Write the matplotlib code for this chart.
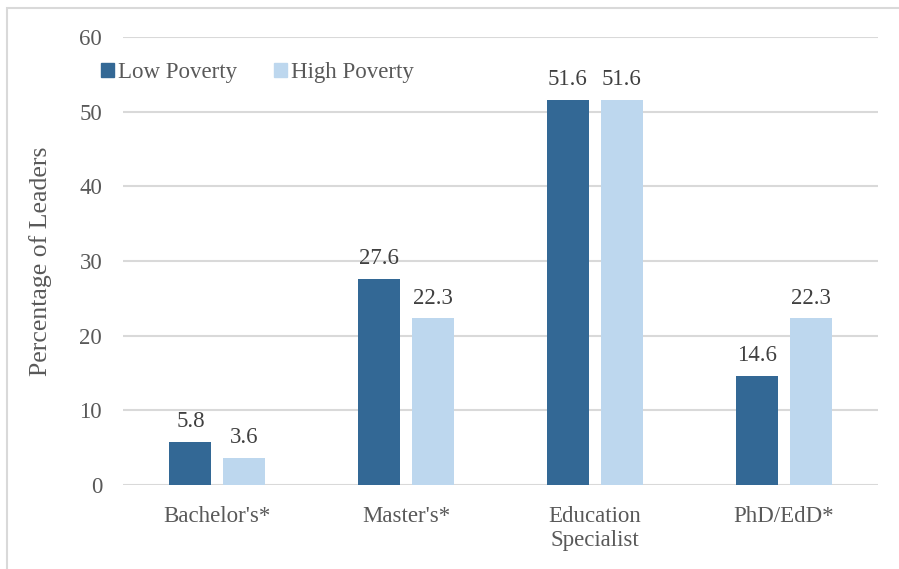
import matplotlib
matplotlib.use("Agg")
import matplotlib.pyplot as plt
from matplotlib.patches import Rectangle, Patch
import numpy as np

plt.rcParams['font.family'] = ['Liberation Serif', 'DejaVu Serif']

categories = ["Bachelor's*", "Master's*", "Education\nSpecialist", "PhD/EdD*"]
low_poverty = [5.8, 27.6, 51.6, 14.6]
high_poverty = [3.6, 22.3, 51.6, 22.3]

dark = '#336895'
light = '#BDD7EE'
txt = '#595959'
grid = '#D9D9D9'
fs = 16.5

fig = plt.figure(figsize=(8.99, 5.69), dpi=100)
ax = fig.add_axes([123/899, 84/569, 755/899, 448/569])

# outer frame (only left and top edges are inside the picture)
fig.patches.append(Rectangle((7/899, -0.05), 1.0, (561/569) + 0.05, transform=fig.transFigure,
                             fill=False, edgecolor=grid, linewidth=1.5))

x = np.arange(len(categories))
w = 0.222
off = 0.143
b1 = ax.bar(x - off, low_poverty, w, color=dark, zorder=3)
b2 = ax.bar(x + off, high_poverty, w, color=light, zorder=3)

for bars, vals in ((b1, low_poverty), (b2, high_poverty)):
    for b, v in zip(bars, vals):
        ax.text(b.get_x() + b.get_width()/2, v + 1.3, f'{v:.1f}', ha='center', va='bottom',
                fontsize=fs, color='#404040')

ax.set_xlim(-0.5, len(categories) - 0.5)
ax.set_ylim(0, 60)
ax.set_yticks(range(0, 61, 10))
ax.set_xticks(x)
ax.set_xticklabels(categories, fontsize=fs, color=txt)
ax.tick_params(axis='y', labelsize=fs, labelcolor=txt, length=0, pad=15)
ax.tick_params(axis='x', length=0, pad=15)
ax.yaxis.grid(True, color=grid, linewidth=1.5, zorder=0)
for s in ax.spines.values():
    s.set_visible(False)
ax.set_ylabel('Percentage of Leaders', fontsize=18.5, color=txt, labelpad=20)

handles = [Patch(color=dark), Patch(color=light)]
ax.legend(handles, ['Low Poverty', 'High Poverty'], loc='upper left', bbox_to_anchor=(-0.05, 0.98),
          ncol=2, frameon=False, fontsize=fs, labelcolor=txt, handlelength=0.55, handleheight=0.55,
          handletextpad=0.2, columnspacing=1.6, borderpad=0.2)

fig.savefig('out.png', dpi=100)
